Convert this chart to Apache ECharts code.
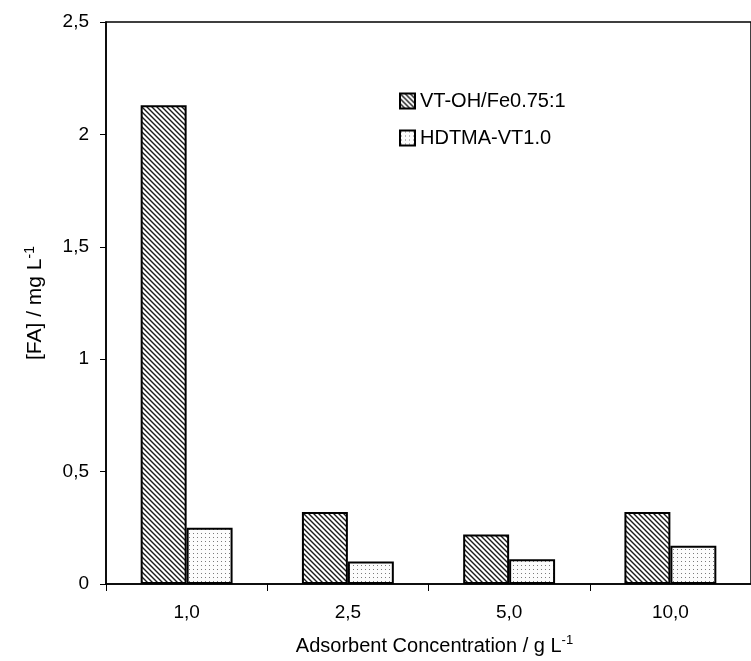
<!DOCTYPE html>
<html><head><meta charset="utf-8">
<script src="https://cdn.jsdelivr.net/npm/echarts@6/dist/echarts.min.js"></script>
<style>html,body{margin:0;padding:0;background:#fff}#c{width:751px;height:661px}</style>
</head><body><div id="c"></div>
<script>
const categories = ['1,0', '2,5', '5,0', '10,0'];
const seriesNames = ['VT-OH/Fe0.75:1', 'HDTMA-VT1.0'];
const vtOhFe = [2.13, 0.32, 0.22, 0.32];
const hdtma = [0.25, 0.10, 0.11, 0.17];
const yTicks = [0, 0.5, 1, 1.5, 2, 2.5];

function hatchPattern() {
  const s = 5;
  const c = document.createElement('canvas');
  c.width = s; c.height = s;
  const g = c.getContext('2d');
  g.fillStyle = '#ffffff'; g.fillRect(0, 0, s, s);
  g.strokeStyle = '#1a1a1a'; g.lineWidth = 1.4;
  g.beginPath();
  g.moveTo(-1, -1); g.lineTo(s + 1, s + 1);
  g.moveTo(-1, s - 1); g.lineTo(1, s + 1);
  g.moveTo(s - 1, -1); g.lineTo(s + 1, 1);
  g.stroke();
  return c;
}
function dotPattern() {
  const c = document.createElement('canvas');
  c.width = 4; c.height = 4;
  const g = c.getContext('2d');
  g.fillStyle = '#fcfcfc'; g.fillRect(0, 0, 4, 4);
  g.fillStyle = '#7a7a7a'; g.fillRect(1, 1, 1, 1);
  return c;
}
const font = 'Liberation Sans, Arial, sans-serif';
const chart = echarts.init(document.getElementById('c'), null, {renderer: 'canvas'});
chart.setOption({
  animation: false,
  backgroundColor: '#fff',
  grid: {left: 106, top: 22, width: 656, bottom: 77, show: true, borderColor: '#000', borderWidth: 1.5, backgroundColor: 'transparent'},
  legend: {
    orient: 'vertical', left: 394, top: 86, itemWidth: 15, itemHeight: 15, itemGap: 17,
    icon: 'rect',
    textStyle: {fontFamily: font, fontSize: 20, color: '#000'},
    data: seriesNames
  },
  xAxis: {
    type: 'category', data: categories,
    axisLine: {lineStyle: {color: '#000', width: 1.5}},
    axisTick: {show: true, length: 7, lineStyle: {color: '#000', width: 1}},
    axisLabel: {fontFamily: font, fontSize: 19, color: '#000', margin: 19},
    name: 'Adsorbent Concentration / g L{sup|-1}',
    nameLocation: 'middle', nameGap: 50,
    nameTextStyle: {fontFamily: font, fontSize: 20, color: '#000', padding: [0, 0, 0, 12],
      rich: {sup: {fontFamily: font, fontSize: 13, color: '#000', verticalAlign: 'top', padding: [0, 0, 11, 0]}}}
  },
  yAxis: {
    type: 'value', min: 0, max: 2.5, interval: 0.5,
    axisLine: {show: true, lineStyle: {color: '#000', width: 1.5}},
    axisTick: {show: true, length: 6, lineStyle: {color: '#000', width: 1}},
    splitLine: {show: false},
    axisLabel: {fontFamily: font, fontSize: 19, color: '#000', margin: 17,
      formatter: v => yTicks.includes(v) ? String(v).replace('.', ',') : ''},
    name: '[FA] / mg L{sup|-1}',
    nameLocation: 'middle', nameGap: 58,
    nameTextStyle: {fontFamily: font, fontSize: 21, color: '#000',
      rich: {sup: {fontFamily: font, fontSize: 14, color: '#000', verticalAlign: 'top', padding: [0, 0, 11, 0]}}}
  },
  series: [
    {name: seriesNames[0], type: 'bar', data: vtOhFe, barCategoryGap: '43%', barGap: '0%',
     itemStyle: {color: {image: hatchPattern(), repeat: 'repeat'}, borderColor: '#000', borderWidth: 2}},
    {name: seriesNames[1], type: 'bar', data: hdtma, barCategoryGap: '43%', barGap: '0%',
     itemStyle: {color: {image: dotPattern(), repeat: 'repeat'}, borderColor: '#000', borderWidth: 2}}
  ]
});
</script></body></html>
